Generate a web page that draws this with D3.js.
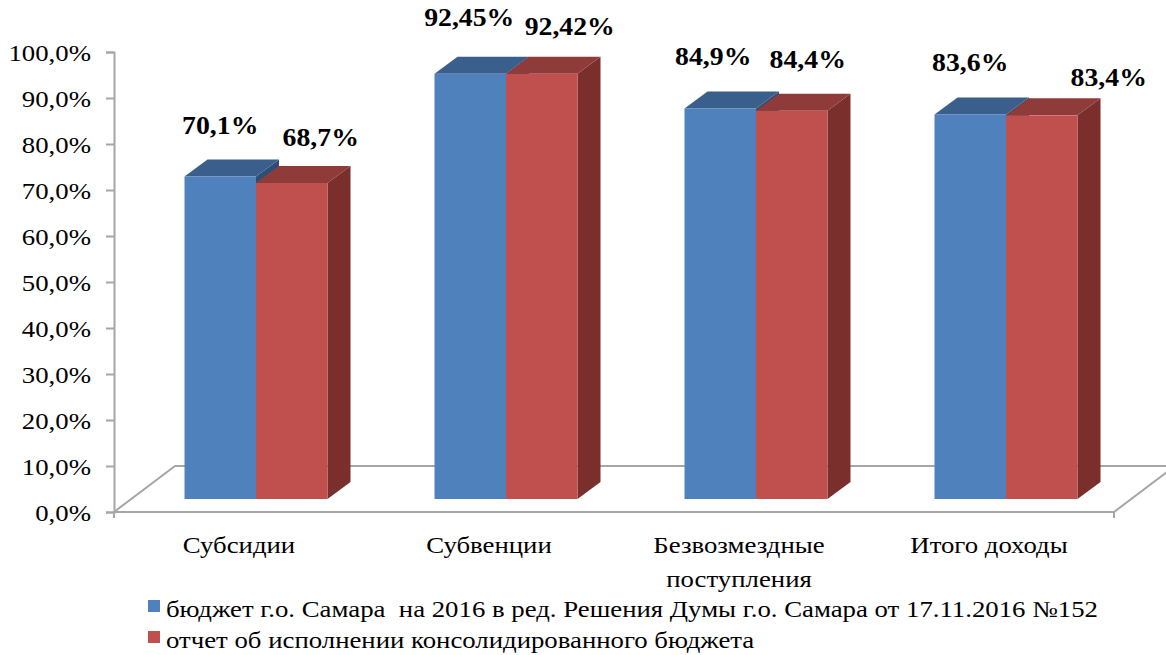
<!DOCTYPE html>
<html lang="ru">
<head>
<meta charset="UTF-8">
<title>Исполнение бюджета г.о. Самара</title>
<script src="https://d3js.org/d3.v7.min.js"></script>
<style>
  body { margin: 0; background: #fff; }
</style>
</head>
<body>
<div id="chart"></div>
<script>
// данные
const categories = ["Субсидии", "Субвенции", "Безвозмездные поступления", "Итого доходы"];
const seriesNames = [
  "бюджет г.о. Самара  на 2016 в ред. Решения Думы г.о. Самара от 17.11.2016 №152",
  "отчет об исполнении консолидированного бюджета"
];
const budgetPlan = [0.701, 0.9245, 0.849, 0.836];
const budgetReport = [0.687, 0.9242, 0.844, 0.834];
const planLabels = ["70,1%", "92,45%", "84,9%", "83,6%"];
const reportLabels = ["68,7%", "92,42%", "84,4%", "83,4%"];
const yTicks = [0, 0.1, 0.2, 0.3, 0.4, 0.5, 0.6, 0.7, 0.8, 0.9, 1.0];
const yTickLabels = ["0,0%", "10,0%", "20,0%", "30,0%", "40,0%", "50,0%", "60,0%", "70,0%", "80,0%", "90,0%", "100,0%"];

// ручные сдвиги подписей (как в исходной диаграмме)
const planLabelShift = [[0, 0], [-1, -5], [-7, 0], [0, 0]];
const reportLabelShift = [[29, 6], [28, 4], [16, 0], [67, 14]];

const width = 1166, height = 655;
const sx = 1.165; // картинка растянута по горизонтали
const font = "'Liberation Serif', 'Times New Roman', serif";

const svg = d3.select("#chart").append("svg")
  .attr("width", width).attr("height", height)
  .style("font-family", font);

const x0 = d3.scaleBand().domain(categories).range([114, 1114]);
const y = d3.scaleLinear().domain([0, 1]).range([512, 52]);
const x1 = d3.scaleBand().domain([0, 1]).range([0, 143]);

// глубина пола и столбцов
const floorDepth = [61, -46];
const front = [17, -13];
const back = [40, -30];

const gray = "#a6a6a6";

// пол
const floor = [[114, 512], [114 + floorDepth[0], 512 + floorDepth[1]], [1114 + floorDepth[0], 512 + floorDepth[1]], [1114, 512]];
svg.append("polygon")
  .attr("points", floor.map(p => p.join(",")).join(" "))
  .attr("fill", "#fff").attr("stroke", gray).attr("stroke-width", 2);
svg.append("line").attr("x1", 114).attr("x2", 114).attr("y1", 512).attr("y2", 518)
  .attr("stroke", gray).attr("stroke-width", 2);
svg.append("line").attr("x1", 1114).attr("x2", 1114).attr("y1", 512).attr("y2", 518)
  .attr("stroke", gray).attr("stroke-width", 2);

// ось Y
const yAxis = d3.axisLeft(y).tickValues(yTicks).tickSize(8).tickPadding(0)
  .tickFormat((d, i) => yTickLabels[i]);
const ga = svg.append("g").attr("transform", "translate(114,0)").call(yAxis)
  .attr("font-family", font);
ga.select(".domain").attr("stroke", gray).attr("stroke-width", 2);
ga.selectAll(".tick line").attr("stroke", gray).attr("stroke-width", 2);
ga.selectAll(".tick text")
  .attr("x", 0).attr("dy", null)
  .attr("transform", "translate(-23,8) scale(" + sx + ",1)")
  .style("font-size", "23px")
  .attr("fill", "#000");

// столбцы
const series = [
  { values: budgetPlan, face: "#4f81bd", top: "#3a5f8c", side: "#2f4e74", labels: planLabels, shift: planLabelShift },
  { values: budgetReport, face: "#c0504d", top: "#8f3b39", side: "#7a2f2d", labels: reportLabels, shift: reportLabelShift }
];

const groupOffset = (x0.bandwidth() - 143) / 2;

categories.forEach((c, ci) => {
  series.forEach((s, si) => {
    const v = s.values[ci];
    const xl = x0(c) + groupOffset + x1(si);
    const xr = xl + x1.bandwidth();
    const yb = y(0), yt = y(v);
    const F = (xx, yy) => [xx + front[0], yy + front[1]];
    const B = (xx, yy) => [xx + back[0], yy + back[1]];
    const g = svg.append("g");
    // боковая грань
    g.append("polygon")
      .attr("points", [F(xr, yt), B(xr, yt), B(xr, yb), F(xr, yb)].map(p => p.join(",")).join(" "))
      .attr("fill", s.side);
    // верх
    g.append("polygon")
      .attr("points", [F(xl, yt), B(xl, yt), B(xr, yt), F(xr, yt)].map(p => p.join(",")).join(" "))
      .attr("fill", s.top);
    // передняя грань
    const p0 = F(xl, yt), p1 = F(xr, yb);
    g.append("rect")
      .attr("x", p0[0]).attr("y", p0[1])
      .attr("width", p1[0] - p0[0]).attr("height", p1[1] - p0[1])
      .attr("fill", s.face);
  });
});

// подписи значений
categories.forEach((c, ci) => {
  series.forEach((s, si) => {
    const xc = x0(c) + groupOffset + x1(si) + x1.bandwidth() / 2 + front[0] + s.shift[ci][0];
    const yc = y(s.values[ci]) + front[1] - 43 + s.shift[ci][1];
    svg.append("text")
      .attr("transform", "translate(" + xc + "," + yc + ") scale(1.11,1)")
      .attr("text-anchor", "middle")
      .style("font-size", "25px").style("font-weight", "bold")
      .text(s.labels[ci]);
  });
});

// подписи категорий
categories.forEach(c => {
  const words = c === "Безвозмездные поступления" ? ["Безвозмездные", "поступления"] : [c];
  const t = svg.append("text")
    .attr("transform", "translate(" + (x0(c) + x0.bandwidth() / 2) + ",553) scale(" + sx + ",1)")
    .attr("text-anchor", "middle")
    .style("font-size", "23px");
  words.forEach((w, i) => {
    t.append("tspan").attr("x", 0).attr("dy", i === 0 ? 0 : 34).text(w);
  });
});

// легенда
series.forEach((s, i) => {
  const ly = 600 + i * 31;
  svg.append("rect").attr("x", 148).attr("y", ly).attr("width", 12).attr("height", 12).attr("fill", s.face);
  svg.append("text")
    .attr("transform", "translate(166," + (ly + 17) + ") scale(" + sx + ",1)")
    .attr("xml:space", "preserve")
    .style("font-size", "23px")
    .text(seriesNames[i]);
});
</script>
</body>
</html>
